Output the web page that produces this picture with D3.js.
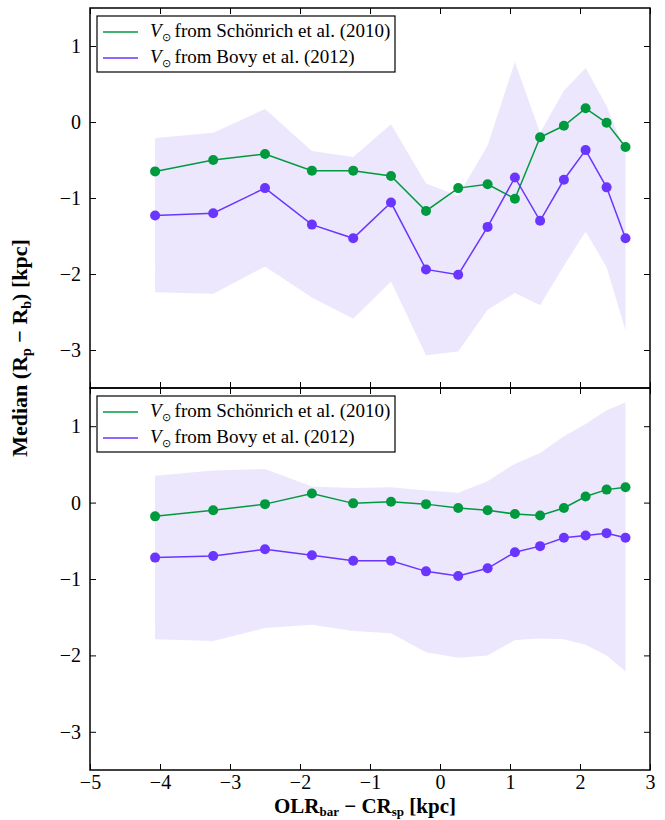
<!DOCTYPE html>
<html>
<head>
<meta charset="utf-8">
<script src="https://cdn.jsdelivr.net/npm/d3@7"></script>
</head>
<body style="margin:0;background:#fff">
<div id="chart"></div>
<script>
// x positions of the bins (OLR_bar - CR_sp, kpc)
var xBins = [-4.07, -3.24, -2.50, -1.83, -1.24, -0.70, -0.20, 0.26, 0.68, 1.07, 1.43, 1.77, 2.08, 2.38, 2.65];

// top panel
var topSchon = [-0.65, -0.50, -0.42, -0.64, -0.64, -0.71, -1.17, -0.87, -0.82, -1.01, -0.20, -0.05, 0.18, -0.01, -0.33];
var topBovy  = [-1.23, -1.20, -0.87, -1.35, -1.53, -1.06, -1.94, -2.01, -1.38, -0.73, -1.30, -0.76, -0.37, -0.86, -1.53];
var topBandHi = [-0.21, -0.14, 0.17, -0.38, -0.46, -0.03, -0.81, -0.97, -0.31, 0.79, -0.14, 0.41, 0.71, 0.21, -0.40];
var topBandLo = [-2.24, -2.26, -1.90, -2.31, -2.59, -2.10, -3.07, -3.02, -2.47, -2.25, -2.41, -1.89, -1.44, -1.91, -2.74];

// bottom panel
var botSchon = [-0.18, -0.10, -0.02, 0.12, -0.01, 0.01, -0.02, -0.07, -0.10, -0.15, -0.17, -0.07, 0.08, 0.17, 0.20];
var botBovy  = [-0.72, -0.70, -0.61, -0.69, -0.76, -0.76, -0.90, -0.96, -0.86, -0.65, -0.57, -0.46, -0.43, -0.40, -0.46];
var botBandHi = [0.35, 0.42, 0.44, 0.21, 0.19, 0.20, 0.16, 0.13, 0.28, 0.51, 0.65, 0.87, 1.03, 1.21, 1.31];
var botBandLo = [-1.79, -1.81, -1.64, -1.60, -1.68, -1.71, -1.96, -2.03, -2.00, -1.80, -1.78, -1.79, -1.86, -2.00, -2.21];

var xTicks = [-5, -4, -3, -2, -1, 0, 1, 2, 3];
var yTicks = [-3, -2, -1, 0, 1];
var legendLabels = ["from Schönrich et al. (2010)", "from Bovy et al. (2012)"];

var green = "#009a3e", purple = "#6a35ff", band = "#ece7fd";
var FONT = "Liberation Serif";

var W = 665, H = 820;
var svg = d3.select("#chart").append("svg").attr("width", W).attr("height", H)
  .attr("font-family", FONT);

var x = d3.scaleLinear().domain([-5, 3]).range([90, 650]);
var panels = [
  {top: 8, bottom: 388, schon: topSchon, bovy: topBovy, hi: topBandHi, lo: topBandLo},
  {top: 388, bottom: 770, schon: botSchon, bovy: botBovy, hi: botBandHi, lo: botBandLo}
];

var fmt = function (d) { return d < 0 ? "\u2212" + Math.abs(d) : "" + d; };

panels.forEach(function (p, pi) {
  var y = d3.scaleLinear().domain([-3.5, 1.5]).range([p.bottom, p.top]);
  var g = svg.append("g");

  // shaded band
  var area = d3.area()
    .x(function (d, i) { return x(xBins[i]); })
    .y0(function (d, i) { return y(p.lo[i]); })
    .y1(function (d) { return y(d); });
  g.append("path").datum(p.hi).attr("d", area).attr("fill", band);

  // lines + markers
  [[p.schon, green], [p.bovy, purple]].forEach(function (s) {
    var line = d3.line()
      .x(function (d, i) { return x(xBins[i]); })
      .y(function (d) { return y(d); });
    g.append("path").datum(s[0]).attr("d", line)
      .attr("fill", "none").attr("stroke", s[1]).attr("stroke-width", 1.5);
    g.selectAll(null).data(s[0]).enter().append("circle")
      .attr("cx", function (d, i) { return x(xBins[i]); })
      .attr("cy", function (d) { return y(d); })
      .attr("r", 5).attr("fill", s[1]);
  });

  // axes (ticks inward on all sides)
  var showX = pi === 1;
  var axB = g.append("g").attr("transform", "translate(0," + p.bottom + ")")
    .call(d3.axisBottom(x).tickValues(xTicks).tickSize(-6).tickPadding(5).tickFormat(showX ? fmt : ""));
  var axT = g.append("g").attr("transform", "translate(0," + p.top + ")")
    .call(d3.axisTop(x).tickValues(xTicks).tickSize(-6).tickFormat(""));
  var axL = g.append("g").attr("transform", "translate(" + x(-5) + ",0)")
    .call(d3.axisLeft(y).tickValues(yTicks).tickSize(-6).tickPadding(9).tickFormat(fmt));
  var axR = g.append("g").attr("transform", "translate(" + x(3) + ",0)")
    .call(d3.axisRight(y).tickValues(yTicks).tickSize(-6).tickFormat(""));
  [axB, axT, axL, axR].forEach(function (a) {
    a.attr("font-family", FONT).attr("font-size", 20);
    a.select(".domain").remove();
    a.selectAll(".tick line").attr("stroke", "#000").attr("stroke-width", 1);
    a.selectAll(".tick text").attr("fill", "#000");
  });

  g.append("rect").attr("x", x(-5)).attr("y", p.top)
    .attr("width", x(3) - x(-5)).attr("height", p.bottom - p.top)
    .attr("fill", "none").attr("stroke", "#000").attr("stroke-width", 1.5);

  // legend
  var lg = g.append("g").attr("transform", "translate(97," + (p.top + 8) + ")");
  lg.append("rect").attr("width", 298).attr("height", 56)
    .attr("fill", "#fff").attr("stroke", "#000").attr("stroke-width", 1.2);
  [green, purple].forEach(function (c, i) {
    var yy = 16 + i * 26;
    lg.append("line").attr("x1", 6).attr("x2", 41).attr("y1", yy).attr("y2", yy)
      .attr("stroke", c).attr("stroke-width", 1.5);
    var t = lg.append("text").attr("x", 53).attr("y", yy + 5)
      .attr("font-family", FONT).attr("font-size", 19);
    t.append("tspan").attr("font-style", "italic").text("V");
    t.append("tspan").attr("font-size", 11).attr("dy", 4).text("\u2299");
    t.append("tspan").attr("dy", -4).attr("dx", 4).text(legendLabels[i]);
  });
});

// axis labels
var xl = svg.append("text").attr("x", 365).attr("y", 813).attr("text-anchor", "middle")
  .attr("font-family", FONT).attr("font-size", 21).attr("font-weight", "bold");
xl.append("tspan").text("OLR");
xl.append("tspan").attr("font-size", 13).attr("dy", 3).text("bar");
xl.append("tspan").attr("dy", -3).text(" \u2212 CR");
xl.append("tspan").attr("font-size", 13).attr("dy", 3).text("sp");
xl.append("tspan").attr("dy", -3).text(" [kpc]");

var yl = svg.append("text").attr("transform", "translate(27,348) rotate(-90)")
  .attr("text-anchor", "middle")
  .attr("font-family", FONT).attr("font-size", 22).attr("font-weight", "bold");
yl.append("tspan").text("Median (R");
yl.append("tspan").attr("font-size", 14).attr("dy", 4).text("p");
yl.append("tspan").attr("dy", -4).text(" \u2212 R");
yl.append("tspan").attr("font-size", 14).attr("dy", 4).text("b");
yl.append("tspan").attr("dy", -4).text(") [kpc]");
</script>
</body>
</html>
